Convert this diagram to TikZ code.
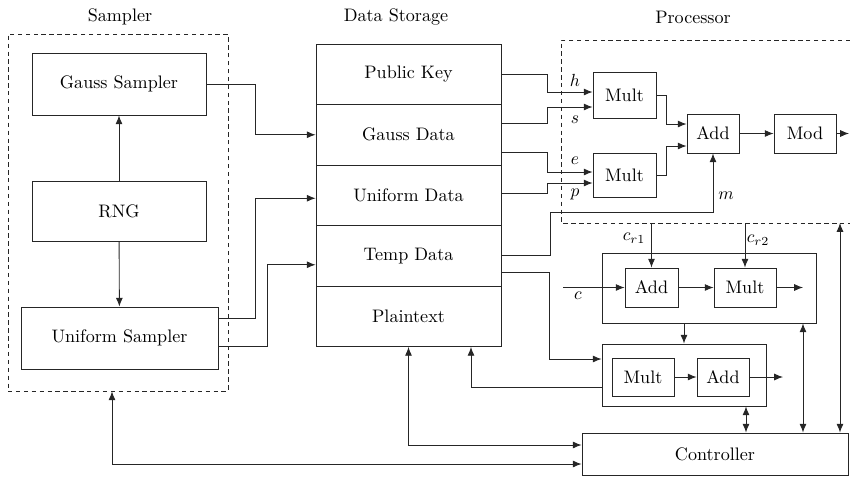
\documentclass[tikz,border=0pt]{standalone}
\usetikzlibrary{arrows.meta,calc}
\begin{document}
\begin{tikzpicture}[x=0.02cm, y=-0.02cm, line width=0.5pt, font=\fontsize{10.3}{12}\selectfont,
  blk/.style={draw=black!85, inner sep=0pt},
  unit/.style={blk, minimum height=0.78cm},
  arr/.style={draw=black!85, -{Latex[length=5pt,width=4pt]}},
  darr/.style={draw=black!85, {Latex[length=5pt,width=4pt]}-{Latex[length=5pt,width=4pt]}},
  grp/.style={draw=black!85, dash pattern=on 2.5pt off 2pt}]
  \useasboundingbox (0,0) rectangle (850,478);
  % sampler
  \node[grp, minimum width=4.4cm, minimum height=7.14cm] (smp) at (118,212.5) {};
  \node (smplbl) at (120,17) {Sampler};
  \node[blk, minimum width=3.48cm, minimum height=1.24cm] (gauss) at (119,84) {Gauss Sampler};
  \node[blk, minimum width=3.48cm, minimum height=1.2cm] (rng) at (119,211) {RNG};
  \node[blk, minimum width=3.94cm, minimum height=1.24cm] (unif) at (119.5,338) {Uniform Sampler};
  \draw[arr] (rng) -- (gauss);
  \draw[arr] (rng) -- (unif);
  % data storage
  \node (dslbl) at (396,17) {Data Storage};
  \foreach \n/\y/\t in {pk/74.25/Public Key, gd/134.75/Gauss Data, ud/195.25/Uniform Data,
      td/255.75/Temp Data, pt/316.25/Plaintext}
    \node[blk, minimum width=3.7cm, minimum height=1.21cm] (\n) at (408.5,\y) {\t};
  \draw[arr] (gauss.east) -- ++(49,0) |- (gd.west);
  \draw[arr] ($(unif.east)+(0,-20)$) -- ++(37,0) |- ($(ud.west)+(0,3)$);
  \draw[arr] ($(unif.east)+(0,8)$) -- ++(49,0) |- ($(td.west)+(0,9)$);
  % processor
  \node (prlbl) at (693,17) {Processor};
  \draw[grp] (850,40) -- (561,40) -- (561,223) -- (850,223);
  \coordinate (pdash) at (840,223);
  \node[blk, minimum width=1.26cm, minimum height=0.92cm] (mult1) at (624.5,95) {Mult};
  \node[blk, minimum width=1.26cm, minimum height=0.88cm] (mult2) at (624.5,175) {Mult};
  \node[unit, minimum width=1.04cm] (add1) at (713,133.5) {Add};
  \node[unit, minimum width=1.24cm] (mod) at (805,133.5) {Mod};
  \coordinate (pout) at (849,133.5);
  \draw[arr] (pk.east) -- ++(46,0) |- ($(mult1.west)+(0,-3)$);
  \draw[arr] ($(gd.east)+(0,-11)$) -- ++(46,0) |- ($(mult1.west)+(0,12)$);
  \draw[arr] ($(gd.east)+(0,18)$) -- ++(46,0) |- ($(mult2.west)+(0,-3)$);
  \draw[arr] ($(ud.east)+(0,-2)$) -- ++(46,0) |- ($(mult2.west)+(0,8)$);
  \draw[arr] (mult1.east) -- ++(10,0) |- ($(add1.west)+(0,-9.5)$);
  \draw[arr] (mult2.east) -- ++(10,0) |- ($(add1.west)+(0,12.5)$);
  \draw[arr] (add1) -- (mod);
  \draw[arr] (mod) -- (pout);
  \draw[arr] (td.east) -- ++(49,0) -- ++(0,-43) -| (add1.south);
  \node at (575,80) {$h$};
  \node at (575,120) {$s$};
  \node at (575,161) {$e$};
  \node at (575,194) {$p$};
  \node at (726,196) {$m$};
  % encryption
  \node[blk, minimum width=4.28cm, minimum height=1.4cm] (enc) at (709,288) {};
  \node[unit, minimum width=1.06cm] (add2) at (651.5,287.5) {Add};
  \node[unit, minimum width=1.24cm] (mult3) at (745,287.5) {Mult};
  \coordinate (cin) at (563,287.5);
  \coordinate (eout) at (803,287.5);
  \coordinate (cr1) at (add2.north |- pdash);
  \coordinate (cr2) at (mult3.north |- pdash);
  \draw[arr] (cin) -- (add2);
  \draw[arr] (cr1) -- (add2.north);
  \draw[arr] (cr2) -- (mult3.north);
  \draw[arr] (add2) -- (mult3);
  \draw[arr] (mult3) -- (eout);
  \node at (578,296) {$c$};
  \node at (634,238) {$c_{r1}$};
  \node at (758,240) {$c_{r2}$};
  % decryption
  \node[blk, minimum width=3.28cm, minimum height=1.24cm] (dec) at (684,375) {};
  \node[unit, minimum width=1.24cm, minimum height=0.76cm] (mult4) at (643,377) {Mult};
  \node[unit, minimum width=1.04cm, minimum height=0.76cm] (add3) at (723,377) {Add};
  \coordinate (dout) at (783,377);
  \draw[arr] (mult4) -- (add3);
  \draw[arr] (add3) -- (dout);
  \draw[arr] (enc.south -| dec.north) -- (dec.north);
  \draw[arr] ($(td.east)+(0,17)$) -- ++(48,0) |- ($(dec.west)+(0,-16)$);
  \draw[arr] ($(dec.west)+(0,12)$) -| ($(pt.south)+(62.5,0)$);
  % controller
  \node[blk, minimum width=5.32cm, minimum height=0.84cm] (ctrl) at (715,454) {Controller};
  \coordinate (dc) at ($(dec.south)+(62,0)$);
  \coordinate (ec) at ($(enc.south)+(94,0)$);
  \draw[darr] (dc) -- (dc |- ctrl.north);
  \draw[darr] (ec) -- (ec |- ctrl.north);
  \draw[darr] (pdash) -- (pdash |- ctrl.north);
  \draw[darr] ($(ctrl.west)+(0,-9)$) -| (pt.south);
  \draw[darr] ($(ctrl.west)+(0,10)$) -| ($(smp.south)+(-6,0)$);
\end{tikzpicture}
\end{document}
